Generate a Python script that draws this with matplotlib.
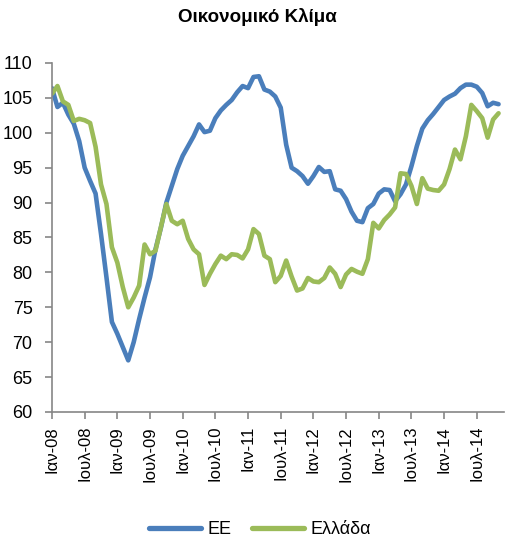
import numpy as np
import matplotlib
matplotlib.use("Agg")
import matplotlib.pyplot as plt

plt.rcParams['font.family'] = ['Liberation Sans', 'DejaVu Sans']

# monthly values, Jan 2008 .. Nov 2014
ee = [106.4, 103.7, 104.3, 102.6, 101.3, 98.8, 95.0, 93.1, 91.3, 85.5,
      79.3, 72.9, 71.2, 69.3, 67.4, 70.0, 73.3, 76.4, 79.3, 83.3,
      86.4, 90.0, 92.4, 94.8, 96.7, 98.1, 99.5, 101.2, 100.1, 100.3,
      102.1, 103.2, 104.0, 104.7, 105.8, 106.7, 106.4, 108.0, 108.1, 106.2,
      105.9, 105.2, 103.6, 98.3, 95.0, 94.5, 93.8, 92.7, 93.8, 95.1,
      94.4, 94.5, 91.9, 91.7, 90.5, 88.7, 87.4, 87.2, 89.2, 89.8,
      91.3, 91.9, 91.8, 90.2, 91.2, 92.6, 95.2, 98.1, 100.6, 101.8,
      102.7, 103.7, 104.7, 105.2, 105.6, 106.4, 106.9, 106.9, 106.6, 105.7,
      103.8, 104.3, 104.1]
greece = [105.6, 106.7, 104.5, 104.0, 101.7, 102.0, 101.8, 101.4, 98.0, 92.6,
          89.8, 83.6, 81.4, 77.9, 75.0, 76.4, 78.1, 84.0, 82.6, 83.1,
          86.5, 89.8, 87.4, 86.9, 87.4, 84.8, 83.3, 82.6, 78.2, 79.8,
          81.2, 82.4, 81.9, 82.6, 82.5, 82.0, 83.3, 86.2, 85.5, 82.4,
          81.9, 78.6, 79.5, 81.7, 79.4, 77.4, 77.7, 79.2, 78.7, 78.6,
          79.2, 80.7, 79.8, 77.9, 79.7, 80.5, 80.1, 79.8, 81.9, 87.1,
          86.3, 87.5, 88.3, 89.3, 94.2, 94.1, 92.4, 89.8, 93.5, 92.0,
          91.8, 91.7, 92.6, 94.8, 97.6, 96.2, 99.5, 104.0, 103.1, 102.1,
          99.3, 101.9, 102.8]
tick_labels = ["Ιαν-08", "Ιουλ-08", "Ιαν-09", "Ιουλ-09", "Ιαν-10", "Ιουλ-10",
               "Ιαν-11", "Ιουλ-11", "Ιαν-12", "Ιουλ-12", "Ιαν-13", "Ιουλ-13",
               "Ιαν-14", "Ιουλ-14"]

x = np.arange(len(ee))

fig = plt.figure(figsize=(5.10, 5.48), dpi=100)
ax = fig.add_axes([52/510, 1 - 412/548, 452/510, 349/548])

ax.plot(x, ee, color="#4A7EBB", lw=3.3, label="ΕΕ", solid_capstyle="round", solid_joinstyle="round")
ax.plot(x, greece, color="#9BBB59", lw=3.3, label="Ελλάδα", solid_capstyle="round", solid_joinstyle="round")

ax.set_xlim(0, 83)
ax.set_ylim(60, 110)
ax.set_yticks(np.arange(60, 111, 5))
ax.set_xticks(np.arange(0, 84, 6))
ax.set_xticklabels(tick_labels, rotation=90)
ax.tick_params(axis="both", color="#868686", length=5, width=1.2)
ax.tick_params(axis="y", labelsize=13, pad=9)
ax.tick_params(axis="x", labelsize=12, pad=5)

for s in ["top", "right"]:
    ax.spines[s].set_visible(False)
for s in ["left", "bottom"]:
    ax.spines[s].set_color("#868686")
    ax.spines[s].set_linewidth(1.2)

fig.text(0.505, 1 - 17/548, "Οικονομικό Κλίμα", ha="center", va="center", fontsize=13.5, fontweight="bold")

leg = fig.legend(loc="center", bbox_to_anchor=(260/510, 1 - 530/548), ncol=2, frameon=False,
                 fontsize=13, handlelength=2.9, columnspacing=1.15, handletextpad=0.35)
for h in leg.get_lines():
    h.set_linewidth(3.8)
    h.set_solid_capstyle("round")

fig.savefig("out.png", dpi=100)
